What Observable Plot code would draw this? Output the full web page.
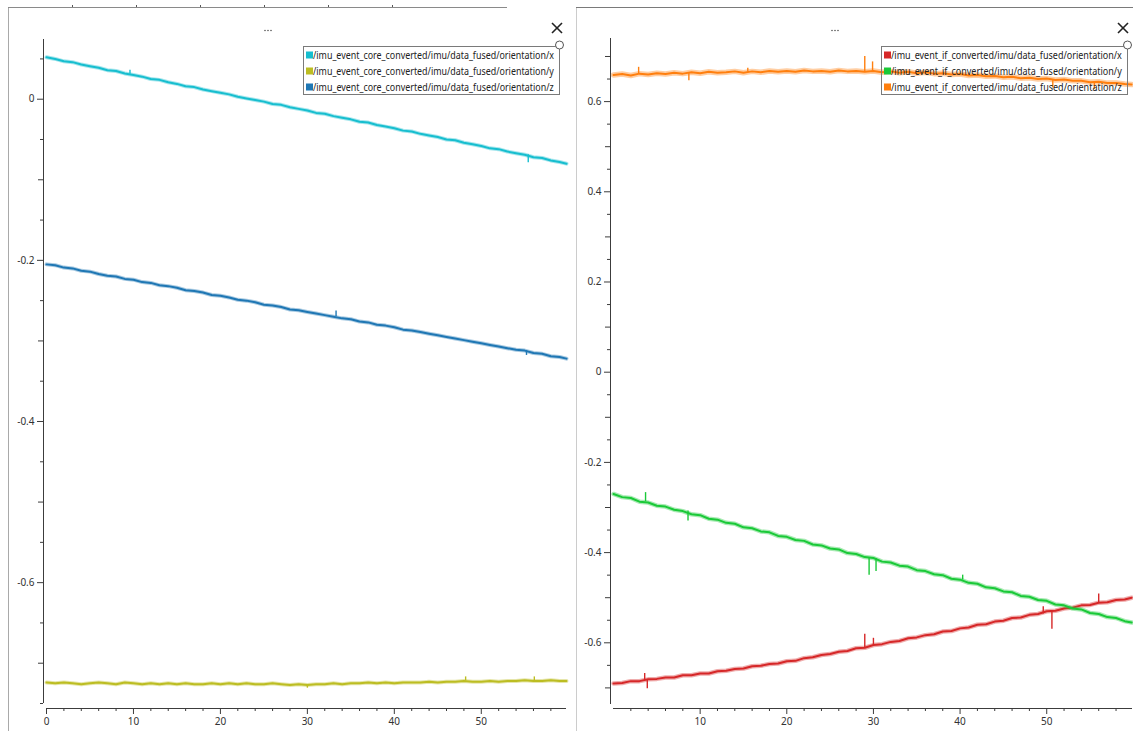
<!DOCTYPE html>
<html><head><meta charset="utf-8">
<script src="https://cdn.jsdelivr.net/npm/d3@7"></script>
<script src="https://cdn.jsdelivr.net/npm/@observablehq/plot@0.6"></script>
<style>
html,body{margin:0;padding:0;background:#fff;}
#root{position:relative;width:1133px;height:731px;overflow:hidden;background:#fff;font-family:"Noto Sans","DejaVu Sans",sans-serif;}
#root > svg{position:absolute;top:0;}
</style></head><body><div id="root"></div><script>
// ---------- data ----------
const TIME = [0,1,2,3,4,5,6,7,8,9,10,11,12,13,14,15,16,17,18,19,20,21,22,23,24,25,26,27,28,29,30,31,32,33,34,35,36,37,38,39,40,41,42,43,44,45,46,47,48,49,50,51,52,53,54,55,56,57,58,59,59.8];

// left panel: /imu_event_core_converted
const CORE_X = [0.052,0.050,0.047,0.046,0.043,0.041,0.039,0.036,0.035,0.032,
  0.030,0.028,0.025,0.024,0.021,0.019,0.016,0.015,0.012,0.010,
  0.008,0.006,0.003,0.001,-0.001,-0.003,-0.006,-0.007,-0.010,-0.012,
  -0.014,-0.017,-0.018,-0.021,-0.023,-0.025,-0.028,-0.029,-0.032,-0.034,
  -0.036,-0.039,-0.040,-0.043,-0.045,-0.047,-0.050,-0.051,-0.054,-0.056,
  -0.058,-0.061,-0.062,-0.065,-0.067,-0.069,-0.072,-0.073,-0.076,-0.078,
  -0.080];
const CORE_Y = [-0.724,-0.725,-0.724,-0.725,-0.726,-0.725,-0.724,-0.725,-0.726,-0.724,
  -0.725,-0.726,-0.725,-0.726,-0.725,-0.726,-0.725,-0.726,-0.726,-0.725,
  -0.726,-0.725,-0.726,-0.725,-0.726,-0.726,-0.725,-0.726,-0.727,-0.726,
  -0.727,-0.726,-0.726,-0.725,-0.726,-0.725,-0.725,-0.724,-0.725,-0.724,
  -0.725,-0.724,-0.724,-0.724,-0.723,-0.724,-0.723,-0.723,-0.722,-0.723,
  -0.723,-0.722,-0.723,-0.722,-0.722,-0.721,-0.722,-0.722,-0.721,-0.722,
  -0.722];
const CORE_Z = [-0.205,-0.206,-0.209,-0.210,-0.213,-0.214,-0.217,-0.219,-0.220,-0.223,
  -0.224,-0.227,-0.228,-0.231,-0.232,-0.234,-0.237,-0.238,-0.240,-0.243,
  -0.244,-0.246,-0.249,-0.250,-0.252,-0.255,-0.256,-0.258,-0.261,-0.262,
  -0.264,-0.266,-0.268,-0.270,-0.272,-0.273,-0.276,-0.277,-0.280,-0.281,
  -0.283,-0.286,-0.287,-0.289,-0.291,-0.293,-0.295,-0.297,-0.299,-0.301,
  -0.303,-0.305,-0.307,-0.309,-0.311,-0.312,-0.315,-0.316,-0.319,-0.320,
  -0.322];

// right panel: /imu_event_if_converted
const IF_X = [-0.690,-0.689,-0.685,-0.685,-0.681,-0.680,-0.677,-0.677,-0.672,-0.672,
  -0.668,-0.668,-0.663,-0.662,-0.658,-0.657,-0.652,-0.651,-0.647,-0.646,
  -0.641,-0.640,-0.634,-0.632,-0.627,-0.625,-0.620,-0.618,-0.612,-0.611,
  -0.605,-0.603,-0.598,-0.596,-0.590,-0.588,-0.583,-0.581,-0.575,-0.574,
  -0.568,-0.566,-0.560,-0.559,-0.553,-0.551,-0.545,-0.544,-0.538,-0.536,
  -0.530,-0.529,-0.524,-0.522,-0.517,-0.516,-0.511,-0.510,-0.505,-0.504,
  -0.500];
const IF_Y = [-0.270,-0.277,-0.279,-0.287,-0.289,-0.296,-0.298,-0.305,-0.308,-0.315,
  -0.317,-0.325,-0.327,-0.334,-0.336,-0.344,-0.346,-0.353,-0.355,-0.363,
  -0.365,-0.372,-0.374,-0.382,-0.384,-0.391,-0.393,-0.401,-0.403,-0.410,
  -0.412,-0.420,-0.422,-0.429,-0.431,-0.439,-0.441,-0.448,-0.450,-0.458,
  -0.460,-0.467,-0.469,-0.477,-0.479,-0.486,-0.488,-0.496,-0.498,-0.505,
  -0.507,-0.515,-0.517,-0.524,-0.526,-0.534,-0.536,-0.543,-0.545,-0.552,
  -0.555];
const IF_Z = [0.659,0.661,0.658,0.662,0.660,0.663,0.661,0.664,0.662,0.665,
  0.663,0.666,0.664,0.665,0.667,0.664,0.667,0.665,0.668,0.666,
  0.668,0.666,0.669,0.667,0.668,0.666,0.669,0.667,0.668,0.666,
  0.668,0.665,0.667,0.664,0.666,0.663,0.665,0.662,0.663,0.660,
  0.661,0.658,0.659,0.656,0.657,0.654,0.655,0.652,0.653,0.650,
  0.651,0.648,0.649,0.646,0.646,0.643,0.644,0.641,0.641,0.639,
  0.638];

// spikes: [time, line value, peak value]
const CORE_X_SPIKES = [[9.6,0.031,0.036],[55.4,-0.069,-0.079]];
const CORE_Y_SPIKES = [[30.0,-0.727,-0.731],[48.2,-0.722,-0.717],[56.1,-0.722,-0.717]];
const CORE_Z_SPIKES = [[33.3,-0.270,-0.263],[55.2,-0.312,-0.318]];
const IF_X_SPIKES = [[3.6,-0.684,-0.668],[3.9,-0.683,-0.702],[29.0,-0.611,-0.581],[30.0,-0.605,-0.590],[49.6,-0.536,-0.520],[50.6,-0.530,-0.570],[56.0,-0.511,-0.492]];
const IF_Y_SPIKES = [[3.7,-0.287,-0.267],[8.6,-0.308,-0.330],[29.5,-0.411,-0.450],[30.3,-0.413,-0.442],[40.3,-0.461,-0.450]];
const IF_Z_SPIKES = [[2.9,0.661,0.676],[8.7,0.664,0.646],[15.5,0.665,0.674],[29.0,0.666,0.700],[29.9,0.667,0.688],[50.7,0.649,0.630],[55.5,0.643,0.627]];

// labels
const CORE_LABELS = ["/imu_event_core_converted/imu/data_fused/orientation/x","/imu_event_core_converted/imu/data_fused/orientation/y","/imu_event_core_converted/imu/data_fused/orientation/z"];
const IF_LABELS = ["/imu_event_if_converted/imu/data_fused/orientation/x","/imu_event_if_converted/imu/data_fused/orientation/y","/imu_event_if_converted/imu/data_fused/orientation/z"];
const CORE_COLORS = ["#17becf","#bcbd22","#1f77b4"];
const IF_COLORS = ["#d62728","#1ac938","#ff7f0e"];

// ticks
const LEFT_X_MAJOR = [0,10,20,30,40,50];
const RIGHT_X_MAJOR = [10,20,30,40,50];
const X_MINOR = [2,4,6,8,12,14,16,18,22,24,26,28,32,34,36,38,42,44,46,48,52,54,56,58];
const LEFT_Y_MAJOR = [0,-0.2,-0.4,-0.6];
const LEFT_Y_MED = [-0.1,-0.3,-0.5,-0.7];
const LEFT_Y_MINOR = [0.05,-0.05,-0.15,-0.25,-0.35,-0.45,-0.55,-0.65,-0.75];
const RIGHT_Y_MAJOR = [0.6,0.4,0.2,0,-0.2,-0.4,-0.6];
const RIGHT_Y_MED = [0.7,0.5,0.3,0.1,-0.1,-0.3,-0.5,-0.7];
const RIGHT_Y_MINOR = [0.65,0.55,0.45,0.35,0.25,0.15,0.05,-0.05,-0.15,-0.25,-0.35,-0.45,-0.55,-0.65];

// ---------- drawing ----------
const root = document.getElementById("root");
const AXIS = "#3c3c3c", TXT = "#333";
const FONT = '"Noto Sans","DejaVu Sans",sans-serif';

function toRows(arr) { return TIME.map((t, i) => ({t, v: arr[i]})); }
function toSpikes(arr) { return arr.map(([t, a, b]) => ({t, a, b})); }

function panel(o) {
  const marks = [
    Plot.ruleY([o.yDomain[0]], {x1: o.xDomain[0], x2: o.xDomain[1], dy: o.insetBottom, stroke: AXIS}),
    Plot.ruleX([o.xDomain[0]], {y1: o.yDomain[0], y2: o.yDomain[1], dx: -3, stroke: AXIS}),
    Plot.axisY(o.yMajor, {anchor: "left", label: null, tickSize: 6, tickPadding: 3, tickFormat: d => String(d), stroke: AXIS, fill: TXT}),
    Plot.axisY(o.yMed, {anchor: "left", label: null, tickSize: 5, fill: "none", stroke: AXIS}),
    Plot.axisY(o.yMinor, {anchor: "left", label: null, tickSize: 3, fill: "none", stroke: AXIS}),
    Plot.axisX(o.xMajor, {anchor: "bottom", label: null, tickSize: 6, tickPadding: 3, tickFormat: d => String(d), stroke: AXIS, fill: TXT}),
    Plot.axisX(o.xMinor, {anchor: "bottom", label: null, tickSize: 3, fill: "none", stroke: AXIS})
  ];
  o.series.forEach(s => {
    const rows = toRows(s.values);
    marks.push(Plot.line(rows, {x: "t", y: "v", stroke: s.color, strokeWidth: s.band, strokeOpacity: 0.38, strokeLinejoin: "round"}));
    marks.push(Plot.line(rows, {x: "t", y: "v", stroke: s.color, strokeWidth: 2, strokeLinejoin: "round"}));
    marks.push(Plot.ruleX(toSpikes(s.spikes), {x: "t", y1: "a", y2: "b", stroke: s.color, strokeWidth: 1.4}));
  });
  const svg = Plot.plot({
    width: o.width, height: 731,
    marginLeft: o.marginLeft, marginRight: o.marginRight, marginTop: o.marginTop, marginBottom: o.marginBottom,
    x: {domain: o.xDomain, insetLeft: 3, axis: null},
    y: {domain: o.yDomain, insetBottom: o.insetBottom, axis: null},
    style: {fontFamily: FONT, fontSize: "10px", color: TXT, background: "transparent", overflow: "visible"},
    marks
  });
  svg.style.left = o.left + "px";
  root.appendChild(svg);
}

panel({
  left: 0, width: 575, marginLeft: 43, marginRight: 9, marginTop: 39, marginBottom: 23, insetBottom: 5,
  xDomain: [0, 59.8], yDomain: [-0.75, 0.0741],
  xMajor: LEFT_X_MAJOR, xMinor: X_MINOR, yMajor: LEFT_Y_MAJOR, yMed: LEFT_Y_MED, yMinor: LEFT_Y_MINOR,
  series: [
    {values: CORE_Y, spikes: CORE_Y_SPIKES, color: CORE_COLORS[1], band: 4},
    {values: CORE_Z, spikes: CORE_Z_SPIKES, color: CORE_COLORS[2], band: 4},
    {values: CORE_X, spikes: CORE_X_SPIKES, color: CORE_COLORS[0], band: 4}
  ]
});
panel({
  left: 576, width: 557, marginLeft: 34, marginRight: 1, marginTop: 38, marginBottom: 23, insetBottom: 4,
  xDomain: [0, 59.9], yDomain: [-0.7368, 0.7399],
  xMajor: RIGHT_X_MAJOR, xMinor: X_MINOR, yMajor: RIGHT_Y_MAJOR, yMed: RIGHT_Y_MED, yMinor: RIGHT_Y_MINOR,
  series: [
    {values: IF_X, spikes: IF_X_SPIKES, color: IF_COLORS[0], band: 4.5},
    {values: IF_Y, spikes: IF_Y_SPIKES, color: IF_COLORS[1], band: 4.5},
    {values: IF_Z, spikes: IF_Z_SPIKES, color: IF_COLORS[2], band: 5.5}
  ]
});

// ---------- window chrome & legends ----------
const ov = d3.create("svg").attr("width", 1133).attr("height", 731)
  .style("position", "absolute").style("left", "0px").style("top", "0px");
root.appendChild(ov.node());
ov.append("line").attr("x1", 8.5).attr("y1", 7).attr("x2", 8.5).attr("y2", 731).attr("stroke", "#a9a9a9");
ov.append("line").attr("x1", 8).attr("y1", 7.5).attr("x2", 507).attr("y2", 7.5).attr("stroke", "#8a8a8a");
ov.append("line").attr("x1", 576.5).attr("y1", 7).attr("x2", 576.5).attr("y2", 731).attr("stroke", "#cccccc");
ov.append("line").attr("x1", 576).attr("y1", 7.5).attr("x2", 1133).attr("y2", 7.5).attr("stroke", "#7a7a7a");
[72, 136, 200, 264, 328, 392].forEach(x =>
  ov.append("rect").attr("x", x).attr("y", 5).attr("width", 1).attr("height", 2).attr("fill", "#555"));

function chrome(titleX, closeX, leg) {
  [-3, 0, 3].forEach(d => ov.append("circle").attr("cx", titleX + d).attr("cy", 30.5).attr("r", 0.7).attr("fill", "#333"));
  const g = ov.append("g").attr("stroke", "#222").attr("stroke-width", 1.6);
  g.append("line").attr("x1", closeX - 5).attr("y1", 23).attr("x2", closeX + 5).attr("y2", 33);
  g.append("line").attr("x1", closeX + 5).attr("y1", 23).attr("x2", closeX - 5).attr("y2", 33);
  ov.append("rect").attr("x", leg.x + 0.5).attr("y", 46.5).attr("width", leg.w).attr("height", 48)
    .attr("fill", "none").attr("stroke", "#7a7a7a");
  leg.labels.forEach((lab, i) => {
    const cy = 55 + i * 16;
    ov.append("rect").attr("x", leg.x + 3).attr("y", cy - 3.5).attr("width", 7).attr("height", 7).attr("fill", leg.colors[i]);
    const tg = ov.append("g").attr("transform", `translate(${leg.x + 10},${cy + 4})`);
    const t = tg.append("text").attr("x", 0).attr("y", 0).attr("font-family", FONT).attr("font-size", 11)
      .attr("fill", "#222").text(lab);
    const w = t.node().getComputedTextLength() || leg.textLen;
    tg.attr("transform", `translate(${leg.x + 10},${cy + 4}) scale(${leg.textLen / w},1)`);
  });
  ov.append("circle").attr("cx", leg.x + leg.w + 0.5).attr("cy", 45).attr("r", 4)
    .attr("fill", "#fff").attr("stroke", "#555");
}
chrome(268, 557, {x: 303, w: 256, labels: CORE_LABELS, colors: CORE_COLORS, textLen: 241});
chrome(835, 1123, {x: 881, w: 246, labels: IF_LABELS, colors: IF_COLORS, textLen: 231});
</script></body></html>
